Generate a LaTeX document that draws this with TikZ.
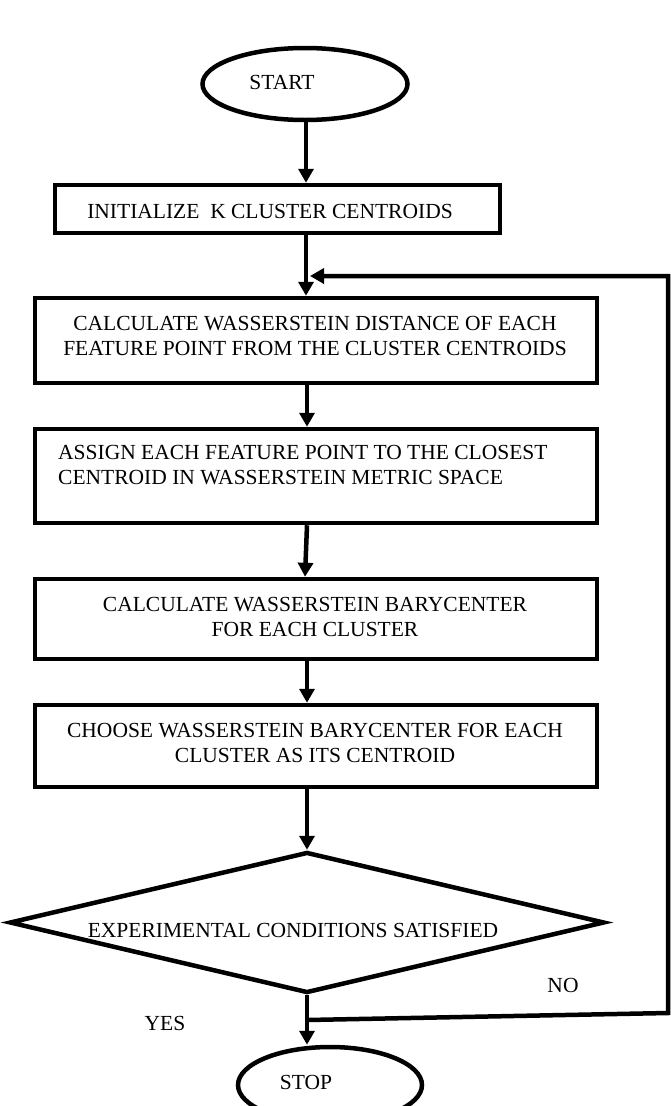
\documentclass[tikz,border=0pt]{standalone}
\usepackage{fontspec}
\setmainfont{Liberation Serif}
\usetikzlibrary{arrows.meta,shapes.geometric}
\begin{document}
\begin{tikzpicture}[x=1pt,y=-1pt,
  every node/.style={font=\fontsize{21.5}{25}\selectfont, inner sep=0pt},
  procbox/.style={draw, line width=4.5pt, rectangle, inner sep=0pt},
  termshape/.style={draw, line width=4.5pt, ellipse, inner sep=0pt},
  decshape/.style={draw, line width=4.5pt, diamond, inner sep=0pt, aspect=4.2},
  arr/.style={line width=4.5pt, -{Triangle[width=15pt,length=14pt]}},
  plainline/.style={line width=4.5pt}]
\useasboundingbox (0,0) rectangle (670,1106);
% terminals
\node[termshape, minimum width=205, minimum height=72] (start) at (305,84) {};
\node (startlbl) at (282,82) {START};
% boxes
\node[procbox, minimum width=445, minimum height=48] (init) at (277.5,209) {};
\node (initlbl) at (270,211) {INITIALIZE\ \ K CLUSTER CENTROIDS};
\node[procbox, minimum width=562, minimum height=85] (dist) at (316,340.5) {};
\node[align=center] (distlbl) at (315,335.5) {CALCULATE WASSERSTEIN DISTANCE OF EACH\\FEATURE POINT FROM THE CLUSTER CENTROIDS};
\node[procbox, minimum width=562, minimum height=94] (assign) at (316,476) {};
\node[align=left, anchor=west] (assignlbl) at (58,465.5) {ASSIGN EACH FEATURE POINT TO THE CLOSEST\\CENTROID IN WASSERSTEIN METRIC SPACE};
\node[procbox, minimum width=562, minimum height=80] (bary) at (316,619) {};
\node[align=center] (barylbl) at (315,616.5) {CALCULATE WASSERSTEIN BARYCENTER\\FOR EACH CLUSTER};
\node[procbox, minimum width=562, minimum height=82] (choose) at (316,746) {};
\node[align=center] (chooselbl) at (315,742.5) {CHOOSE WASSERSTEIN BARYCENTER FOR EACH\\CLUSTER AS ITS CENTROID};
% decision
\node[decshape, minimum width=595, minimum height=141] (dec) at (307,922.5) {};
\node (declbl) at (293,930) {EXPERIMENTAL CONDITIONS SATISFIED};
% stop
\node[termshape, minimum width=184, minimum height=76] (stop) at (330,1085) {};
\node (stoplbl) at (306,1082) {STOP};
% labels
\node (yes) at (165,1023) {YES};
\node (no) at (563,985) {NO};
% axis coordinates
\coordinate (ax) at (306,0);
\coordinate (ax2) at (307,0);
% arrows
\draw[arr] (start.south -| ax) -- (init.north -| ax);
\draw[arr] (init.south -| ax) -- (dist.north -| ax);
\draw[arr] (dist.south -| ax2) -- (assign.north -| ax2);
\draw[arr] (assign.south -| ax2) -- ([xshift=-2pt]bary.north -| ax2);
\draw[arr] (bary.south -| ax2) -- (choose.north -| ax2);
\draw[arr] (choose.south -| ax2) -- (dec.north);
\draw[arr] (dec.south) -- (stop.north -| dec.south);
% loop back
\coordinate (noj) at (307,1020);
\coordinate (nor) at (668,1013);
\coordinate (loopin) at (310,276);
\draw[arr, line join=miter] (noj) -- (nor) |- (loopin);
\end{tikzpicture}
\end{document}
